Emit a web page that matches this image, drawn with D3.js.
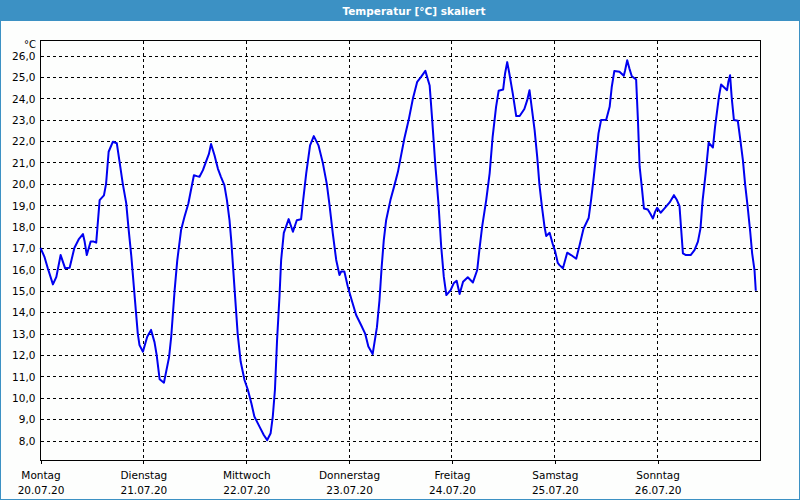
<!DOCTYPE html>
<html>
<head>
<meta charset="utf-8">
<script src="https://cdn.jsdelivr.net/npm/d3@7/dist/d3.min.js"></script>
<style>
  html, body { margin: 0; padding: 0; background: #fff; }
  svg { display: block; }
</style>
</head>
<body>
<svg id="chart" width="800" height="500"></svg>
<script>
// ---- data ----
const title = "Temperatur [°C] skaliert";
const unitLabel = "°C";
const dayNames = ["Montag", "Dienstag", "Mittwoch", "Donnerstag", "Freitag", "Samstag", "Sonntag"];
const dayDates = ["20.07.20", "21.07.20", "22.07.20", "23.07.20", "24.07.20", "25.07.20", "26.07.20"];
const yTicks = [8, 9, 10, 11, 12, 13, 14, 15, 16, 17, 18, 19, 20, 21, 22, 23, 24, 25, 26];
// hours since Monday 20.07.20 00:00
const hours = [0,0.9,1.7,2.9,3.7,4.7,5.75,6.8,7.9,8.9,9.9,10.3,10.8,11.7,12.4,13.0,13.8,14.8,15.3,15.9,16.9,17.8,18.4,19.2,20.0,20.5,21.2,21.9,22.7,23.1,23.9,24.9,25.8,26.6,27.1,27.8,28.8,30.0,30.5,31.3,31.9,32.8,33.6,34.5,35.1,35.8,36.5,37.1,37.9,38.6,39.3,39.8,40.6,41.4,42.1,42.9,43.5,44.1,44.5,45.3,46.0,46.7,47.6,48.4,49.2,49.9,51.1,52.1,52.9,53.7,54.2,54.7,55.2,55.76,56.15,56.77,57.3,57.9,58.9,59.8,60.8,61.2,62.0,62.9,63.77,64.86,65.87,66.8,67.4,68.2,69.0,69.76,70.15,70.9,71.7,72.6,73.65,74.8,75.75,76.5,77.5,78.5,79.1,79.6,80.1,80.65,81.65,82.6,83.4,84.15,84.9,85.9,86.9,87.9,88.8,89.8,90.8,91.4,92.1,92.86,93.5,94.1,94.7,95.7,96.4,97.1,97.8,98.6,99.7,100.9,101.9,102.4,103.05,104.0,104.8,105.5,106.3,106.9,107.95,108.4,108.9,109.4,110.2,111.0,111.8,112.9,113.55,114.1,114.6,115.3,115.9,116.4,117.0,117.6,118.0,118.8,119.5,120.1,120.7,121.1,121.9,122.9,123.8,125.0,125.8,126.7,127.9,128.5,129.1,129.7,130.2,130.8,132.0,132.8,133.3,133.9,135.1,136.1,136.4,136.9,137.4,137.97,138.98,139.4,139.8,140.3,140.8,141.7,142.3,142.9,143.4,143.9,144.7,145.6,146.8,147.8,148.5,149.1,149.5,149.9,150.6,151.7,152.6,153.4,154.0,154.5,155.2,155.9,156.9,157.4,157.9,158.3,158.8,159.6,160.2,160.5,160.9,161.3,161.8,162.7,163.3,163.9,164.4,165.0,165.6,166.05,166.6,166.9];
const temps = [17.0,16.6,16.05,15.3,15.65,16.67,16.05,16.08,17.0,17.4,17.65,17.3,16.67,17.3,17.3,17.25,19.24,19.46,20.0,21.5,21.97,21.9,21.1,20.0,19.1,18.0,16.6,14.9,13.0,12.46,12.15,12.85,13.17,12.6,12.0,10.86,10.7,11.9,12.85,15.03,16.4,17.84,18.46,19.08,19.7,20.4,20.36,20.33,20.64,21.03,21.4,21.86,21.34,20.7,20.33,19.94,19.24,18.3,17.37,15.03,13.0,11.69,10.83,10.36,9.74,9.12,8.65,8.26,8.02,8.34,9.12,10.36,12.7,14.72,16.44,17.71,18.0,18.35,17.76,18.3,18.34,19.08,20.49,21.8,22.23,21.8,20.98,20.0,19.08,17.68,16.44,15.74,15.9,15.9,15.2,14.57,13.87,13.4,13.0,12.39,12.04,13.3,14.57,16.1,17.37,18.3,19.24,19.94,20.56,21.34,22.12,22.98,23.99,24.77,25.0,25.28,24.6,22.98,20.95,19.08,17.06,15.66,14.8,15.03,15.35,15.47,14.85,15.42,15.63,15.39,15.97,16.9,18.0,19.24,20.49,22.2,23.6,24.35,24.41,25.16,25.69,25.16,24.22,23.17,23.17,23.5,23.9,24.38,23.6,22.5,21.26,20.0,18.93,18.0,17.56,17.71,17.2,16.83,16.3,16.2,16.05,16.78,16.67,16.5,17.14,17.9,18.4,19.3,20.33,21.42,22.36,22.98,23.0,23.6,24.54,25.28,25.24,25.05,25.3,25.78,25.4,25.03,24.88,22.98,20.8,19.86,18.85,18.8,18.6,18.38,18.69,18.88,18.65,18.85,19.13,19.47,19.24,18.96,17.84,16.75,16.67,16.67,16.9,17.3,17.92,19.24,20.49,21.92,21.7,22.67,23.45,24.07,24.64,24.49,24.38,24.77,25.08,23.99,22.98,22.95,22.04,21.1,20.0,18.93,17.76,16.75,15.97,15.0];

// ---- layout ----
const W = 800, H = 500;
const pLeft = 40.5, pRight = 760.5, pTop = 40.5, pBottom = 460.5;
const svg = d3.select("#chart");
const font = "'DejaVu Sans', Verdana, sans-serif";

const x = d3.scaleLinear().domain([0, 168]).range([pLeft, pRight]);
const y = d3.scaleLinear().domain([8, 26]).range([440.5, 55.5]);

// background
svg.append("rect").attr("x", 0).attr("y", 0).attr("width", W).attr("height", H).attr("fill", "#fdfefd");
// title bar
svg.append("rect").attr("x", 0).attr("y", 0).attr("width", W).attr("height", 21).attr("fill", "#3c91c4");
svg.append("text").attr("x", 414).attr("y", 14.5).attr("text-anchor", "middle")
  .attr("fill", "#fff").attr("font-family", font).attr("font-weight", "bold").attr("font-size", 10.5)
  .text(title);
// window border
svg.append("rect").attr("x", 0.5).attr("y", 0.5).attr("width", W - 1).attr("height", H - 1)
  .attr("fill", "none").attr("stroke", "#3c91c4").attr("stroke-width", 1);

// horizontal grid
svg.append("g").selectAll("line").data(yTicks).join("line")
  .attr("x1", pLeft).attr("x2", pRight)
  .attr("y1", d => Math.round(y(d)) + 0.5).attr("y2", d => Math.round(y(d)) + 0.5)
  .attr("stroke", "#000").attr("stroke-width", 1).attr("stroke-dasharray", "3,3")
  .attr("shape-rendering", "crispEdges");

// vertical grid at day boundaries
const dayIdx = d3.range(dayNames.length);
svg.append("g").selectAll("line").data(dayIdx.slice(1)).join("line")
  .attr("x1", d => Math.round(x(d * 24) - 0.5) + 0.5).attr("x2", d => Math.round(x(d * 24) - 0.5) + 0.5)
  .attr("y1", pTop).attr("y2", pBottom)
  .attr("stroke", "#000").attr("stroke-width", 1).attr("stroke-dasharray", "3,3")
  .attr("shape-rendering", "crispEdges");

// plot frame
svg.append("rect").attr("x", pLeft).attr("y", pTop).attr("width", pRight - pLeft).attr("height", pBottom - pTop)
  .attr("fill", "none").attr("stroke", "#000").attr("stroke-width", 1).attr("shape-rendering", "crispEdges");

// x axis via d3.axisBottom
const xAxis = d3.axisBottom(x)
  .tickValues(dayIdx.map(d => d * 24))
  .tickSize(3)
  .tickFormat(() => "");
const gx = svg.append("g").attr("transform", `translate(0,${pBottom})`).call(xAxis);
gx.select(".domain").remove();
gx.selectAll(".tick line").attr("stroke", "#000").attr("shape-rendering", "crispEdges");
gx.selectAll(".tick").each(function (d, i) {
  const g = d3.select(this);
  g.append("text").attr("y", 18.5).attr("fill", "#000").attr("text-anchor", "middle")
    .attr("font-family", font).attr("font-size", 10.5).text(dayNames[i]);
  g.append("text").attr("y", 33.5).attr("fill", "#000").attr("text-anchor", "middle")
    .attr("font-family", font).attr("font-size", 10.5).text(dayDates[i]);
});

// y axis labels via d3.axisLeft
const yAxis = d3.axisLeft(y).tickValues(yTicks).tickSize(0).tickPadding(5)
  .tickFormat(d => d3.format(".1f")(d).replace(".", ","));
const gy = svg.append("g").attr("transform", `translate(${pLeft},0)`).call(yAxis);
gy.select(".domain").remove();
gy.selectAll(".tick text").attr("fill", "#000").attr("font-family", font).attr("font-size", 10.5)
  .attr("dy", "0.36em");
svg.append("text").attr("x", 36).attr("y", 48).attr("text-anchor", "end")
  .attr("font-family", font).attr("font-size", 10).attr("fill", "#000").text(unitLabel);

// line
const data = hours.map((h, i) => ({ h, t: temps[i] }));
svg.append("path").datum(data)
  .attr("fill", "none").attr("stroke", "#0000f0").attr("stroke-width", 2).attr("stroke-linejoin", "round")
  .attr("d", d3.line().x(d => x(d.h)).y(d => y(d.t)));
</script>
</body>
</html>
